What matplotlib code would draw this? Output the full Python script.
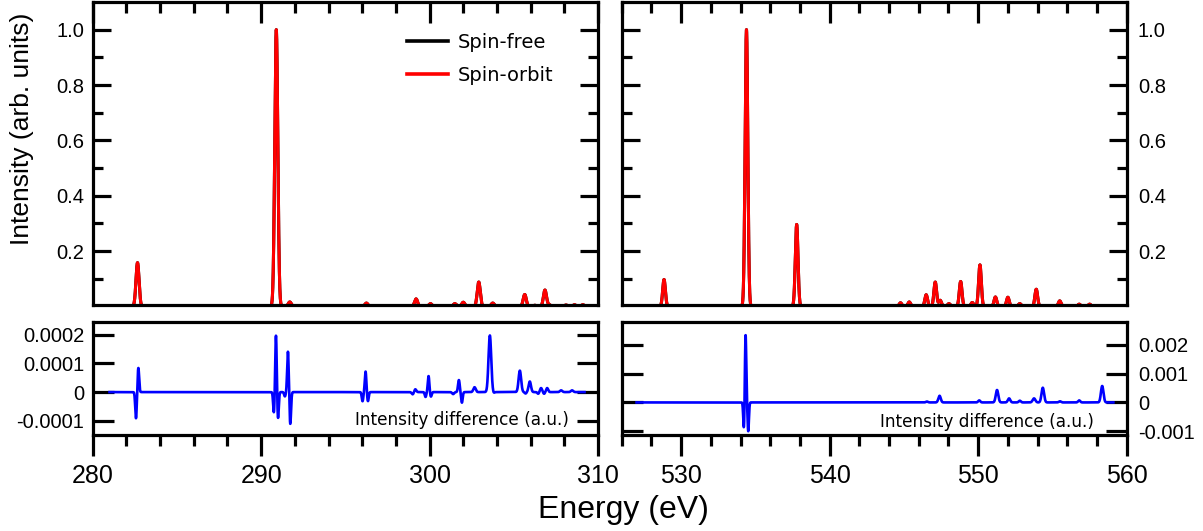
import numpy as np
import matplotlib
matplotlib.use("Agg")
import matplotlib.pyplot as plt
from matplotlib.font_manager import FontProperties

# ---------------- data ----------------
# Carbon K-edge region: stick positions (eV) and intensities (normalised)
c_peak_e = [282.66, 290.90, 291.70, 296.25, 299.20, 300.05, 301.50, 302.00,
            302.92, 303.75, 304.80, 305.65, 306.25, 306.85, 307.10, 308.10,
            308.60, 309.10]
c_peak_i = [0.158, 1.000, 0.016, 0.012, 0.027, 0.010, 0.010, 0.015,
            0.088, 0.012, 0.003, 0.043, 0.004, 0.059, 0.006, 0.005,
            0.006, 0.006]
# Carbon K-edge intensity difference components (eV, a.u., width eV)
c_diff_e = [282.57, 282.71, 290.76, 290.88, 291.00, 291.41, 291.59, 291.73,
            296.02, 296.20, 296.34, 299.00, 299.15, 299.76, 299.94, 300.08,
            301.40, 301.74, 301.92, 302.67, 303.58, 303.80, 305.36, 305.70,
            305.95, 306.45, 306.62, 306.80, 306.98, 307.81, 308.46]
c_diff_v = [-0.92e-4, 0.85e-4, -0.75e-4, 2.02e-4, -0.95e-4, -0.15e-4, 1.42e-4, -1.12e-4,
            -0.32e-4, 0.72e-4, -0.32e-4, -0.08e-4, 0.10e-4, -0.17e-4, 0.56e-4, -0.16e-4,
            -0.07e-4, 0.42e-4, -0.37e-4, 0.17e-4, 1.98e-4, -0.04e-4, 0.75e-4, -0.05e-4,
            0.37e-4, -0.06e-4, 0.14e-4, -0.06e-4, 0.14e-4, 0.06e-4, 0.06e-4]
c_diff_w = [0.045, 0.045, 0.045, 0.045, 0.045, 0.045, 0.045, 0.045,
            0.045, 0.045, 0.045, 0.06, 0.06, 0.045, 0.045, 0.045,
            0.06, 0.05, 0.045, 0.07, 0.08, 0.05, 0.075, 0.05,
            0.07, 0.05, 0.06, 0.05, 0.06, 0.07, 0.07]

# Oxygen K-edge region
o_peak_e = [528.85, 534.40, 537.78, 544.77, 545.36, 546.50, 547.11, 547.44,
            548.03, 548.82, 549.60, 550.12, 551.16, 552.00, 552.80, 553.91,
            555.49, 556.80, 557.50]
o_peak_i = [0.097, 1.000, 0.296, 0.013, 0.016, 0.042, 0.088, 0.022,
            0.010, 0.090, 0.014, 0.150, 0.034, 0.033, 0.010, 0.062,
            0.020, 0.008, 0.008]
o_diff_e = [534.23, 534.34, 534.52, 546.55, 547.40, 550.07, 551.27, 552.08,
            552.80, 553.76, 554.35, 555.50, 556.80, 558.35]
o_diff_v = [-0.95e-3, 2.38e-3, -1.00e-3, 0.03e-3, 0.23e-3, 0.07e-3, 0.43e-3, 0.14e-3,
            0.06e-3, 0.14e-3, 0.51e-3, 0.04e-3, 0.07e-3, 0.57e-3]
o_diff_w = [0.045, 0.045, 0.045, 0.07, 0.08, 0.07, 0.085, 0.08,
            0.07, 0.09, 0.085, 0.07, 0.07, 0.085]

c_range = (281.0, 309.2)
o_range = (527.0, 559.1)

x_ticks_c = [280, 290, 300, 310]
x_ticks_o = [530, 540, 550, 560]
y_ticks_top = [0.2, 0.4, 0.6, 0.8, 1.0]
y_minor_top = [0.1, 0.3, 0.5, 0.7, 0.9]
y_ticks_bl = [-1e-4, 0, 1e-4, 2e-4]
y_labels_bl = ["-0.0001", "0", "0.0001", "0.0002"]
y_ticks_br = [-1e-3, 0, 1e-3, 2e-3]
y_labels_br = ["-0.001", "0", "0.001", "0.002"]


def broaden(centers, amps, lo, hi, sigmas):
    e = np.linspace(lo, hi, 8000)
    y = np.zeros_like(e)
    for c, a, s in zip(centers, amps, sigmas):
        y += a * np.exp(-0.5 * ((e - c) / s) ** 2)
    return e, y


# ---------------- figure ----------------
W, H = 1203, 531
fig = plt.figure(figsize=(W / 100, H / 100), dpi=100)

def axpos(x0, x1, ytop, ybot):
    return [x0 / W, (H - ybot) / H, (x1 - x0) / W, (ybot - ytop) / H]

ax_tl = fig.add_axes(axpos(92.7, 598.0, 2.0, 305.0))
ax_tr = fig.add_axes(axpos(621.7, 1126.7, 2.0, 305.0))
ax_bl = fig.add_axes(axpos(92.7, 598.0, 322.0, 435.0))
ax_br = fig.add_axes(axpos(621.7, 1126.7, 322.0, 435.0))

tick_font = "Liberation Sans"
dv = FontProperties(family="DejaVu Sans", size=14)

for ax in (ax_tl, ax_tr, ax_bl, ax_br):
    for s in ax.spines.values():
        s.set_linewidth(2.3)
        s.set_zorder(5)

# top panels
for ax, pe, pi, rng, xt, xlim in ((ax_tl, c_peak_e, c_peak_i, c_range, x_ticks_c, (280, 310)),
                                  (ax_tr, o_peak_e, o_peak_i, o_range, x_ticks_o, (526, 560))):
    e, so = broaden(pe, pi, rng[0], rng[1], [0.09] * len(pe))
    ax.plot(e, so, color="black", lw=2.2, label="Spin-free", zorder=2)
    ax.plot(e, so, color="#ff0000", lw=2.2, label="Spin-orbit", zorder=3)
    ax.set_xlim(*xlim)
    ax.set_ylim(0.005, 1.1)
    ax.set_xticks(xt)
    ax.set_xticks(np.arange(xlim[0], xlim[1] + 0.1, 2), minor=True)
    ax.set_yticks(y_ticks_top)
    ax.set_yticks(y_minor_top, minor=True)
    ax.tick_params(axis="x", which="both", direction="in", bottom=False, top=True,
                   labelbottom=False, labeltop=False)
    ax.tick_params(axis="x", which="major", length=15, width=2.3)
    ax.tick_params(axis="x", which="minor", length=8, width=2.3)
    ax.tick_params(axis="y", which="both", direction="in", left=True, right=True)
    ax.tick_params(axis="y", which="major", length=13, width=2.3)
    ax.tick_params(axis="y", which="minor", length=7, width=2.3)
    ax.set_yticklabels(["0.2", "0.4", "0.6", "0.8", "1.0"], fontfamily=tick_font, fontsize=14.5)

ax_tl.tick_params(axis="y", labelleft=True, labelright=False, pad=6)
ax_tr.tick_params(axis="y", labelleft=False, labelright=True, pad=8)

leg = ax_tl.legend(loc="upper left", bbox_to_anchor=(0.622, 0.897), frameon=False,
                   prop=dv, handlelength=2.1, handletextpad=0.5, labelspacing=0.72,
                   borderaxespad=0, borderpad=0)
for ln in leg.get_lines():
    ln.set_linewidth(2.6)

# bottom panels
for ax, de, dvv, dw, rng, xt, xlim, yl, yt, ylab in (
        (ax_bl, c_diff_e, c_diff_v, c_diff_w, c_range, x_ticks_c, (280, 310), (-1.5e-4, 2.45e-4), y_ticks_bl, y_labels_bl),
        (ax_br, o_diff_e, o_diff_v, o_diff_w, o_range, x_ticks_o, (526, 560), (-1.13e-3, 2.79e-3), y_ticks_br, y_labels_br)):
    e, d = broaden(de, dvv, rng[0], rng[1], dw)
    ax.plot(e, d, color="#0000ff", lw=1.9, zorder=3)
    ax.set_xlim(*xlim)
    ax.set_ylim(*yl)
    ax.set_xticks(xt)
    ax.set_xticks(np.arange(xlim[0], xlim[1] + 0.1, 2), minor=True)
    ax.set_xticklabels([str(v) for v in xt], fontfamily=tick_font, fontsize=18)
    ax.set_yticks(yt)
    ax.set_yticklabels(ylab, fontfamily=tick_font, fontsize=14.5)
    ax.tick_params(axis="x", which="both", direction="out", bottom=True, top=False)
    ax.tick_params(axis="x", which="major", length=15, width=2.3, pad=6)
    ax.tick_params(axis="x", which="minor", length=8, width=2.3)
    ax.tick_params(axis="y", which="both", direction="in", left=True, right=True)
    ax.tick_params(axis="y", which="major", length=15, width=2.3)

ax_bl.tick_params(axis="y", labelleft=True, labelright=False, pad=6)
ax_br.tick_params(axis="y", labelleft=False, labelright=True, pad=8)

ax_bl.text(0.943, 0.088, "Intensity difference (a.u.)", transform=ax_bl.transAxes,
           ha="right", va="baseline", fontfamily="DejaVu Sans", fontsize=12.2)
ax_br.text(0.935, 0.075, "Intensity difference (a.u.)", transform=ax_br.transAxes,
           ha="right", va="baseline", fontfamily="DejaVu Sans", fontsize=12.2)

fig.text(623.5 / W, (H - 518) / H, "Energy (eV)", ha="center", va="baseline",
         fontfamily=tick_font, fontsize=23)
fig.text(22.5 / W, (H - 128.5) / H, "Intensity (arb. units)", rotation=90,
         ha="center", va="center", fontfamily=tick_font, fontsize=19)

fig.savefig("out.png", dpi=100)
